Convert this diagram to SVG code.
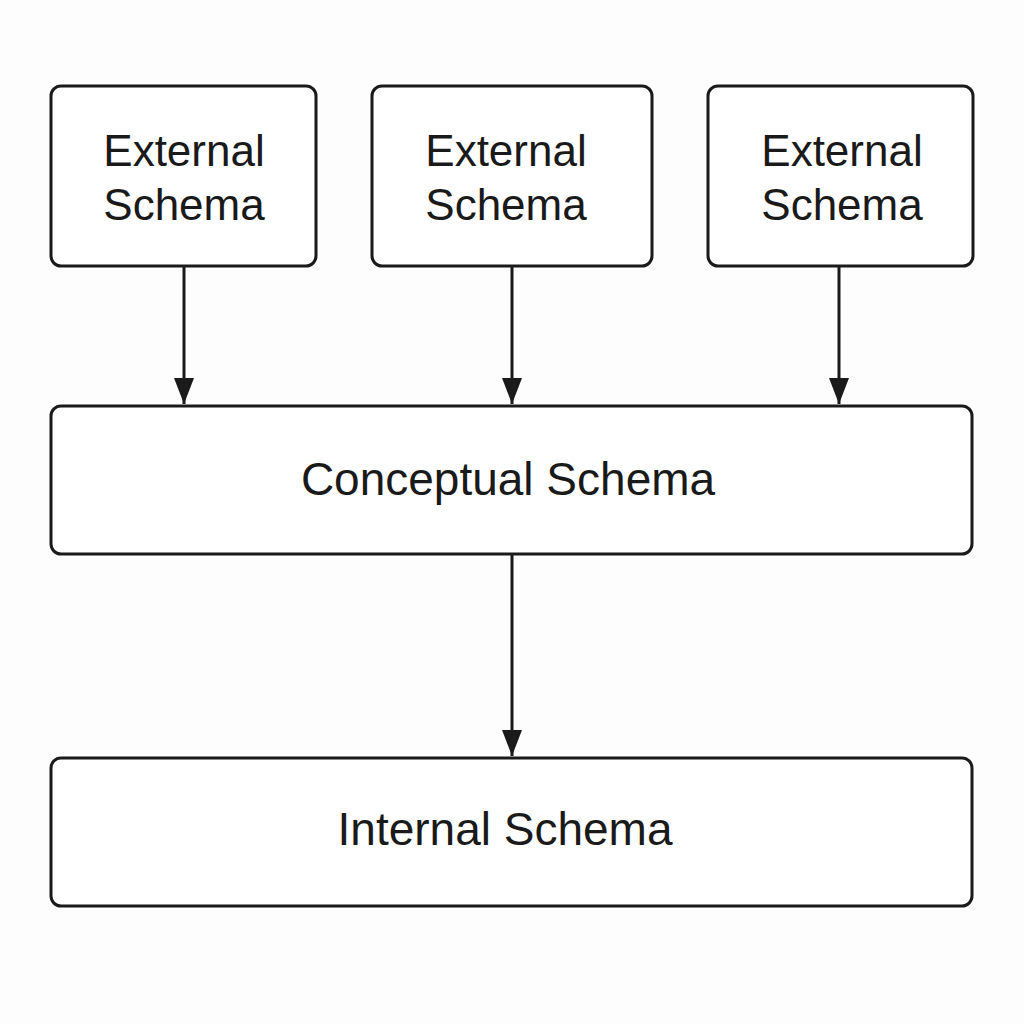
<svg xmlns="http://www.w3.org/2000/svg" width="1024" height="1024" viewBox="0 0 1024 1024">
<style>
.box{fill:#fff;stroke:#1a1a1a;stroke-width:3}
.t{font-family:"Liberation Sans",Arial,sans-serif;font-size:44px;fill:#1a1a1a;text-anchor:middle}
.c{stroke:#1a1a1a;stroke-width:3;fill:none;marker-end:url(#ah)}
</style>
<defs>
<marker id="ah" markerWidth="26" markerHeight="20" refX="26" refY="10" orient="auto" markerUnits="userSpaceOnUse" viewBox="0 0 26 20">
<path d="M0,0 L26,10 L0,20 Z" fill="#1a1a1a"/>
</marker>
</defs>
<rect width="1024" height="1024" fill="#fdfdfd"/>
<g id="connectors">
<line class="c" x1="184" y1="266" x2="184" y2="404"/>
<line class="c" x1="512" y1="266" x2="512" y2="404"/>
<line class="c" x1="839" y1="266" x2="839" y2="404"/>
<line class="c" x1="512" y1="554" x2="512" y2="756"/>
</g>
<g id="ext1"><rect class="box" x="51" y="86" width="265" height="180" rx="10"/><text class="t" x="184" y="166">External</text><text class="t" x="184" y="220">Schema</text></g>
<g id="ext2"><rect class="box" x="372" y="86" width="280" height="180" rx="10"/><text class="t" x="506" y="166">External</text><text class="t" x="506" y="220">Schema</text></g>
<g id="ext3"><rect class="box" x="708" y="86" width="265" height="180" rx="10"/><text class="t" x="842" y="166">External</text><text class="t" x="842" y="220">Schema</text></g>
<g id="conceptual"><rect class="box" x="51" y="406" width="921" height="148" rx="10"/><text class="t" x="508" y="495" style="font-size:46px">Conceptual Schema</text></g>
<g id="internal"><rect class="box" x="51" y="758" width="921" height="148" rx="10"/><text class="t" x="505" y="845" style="font-size:46px">Internal Schema</text></g>
</svg>
